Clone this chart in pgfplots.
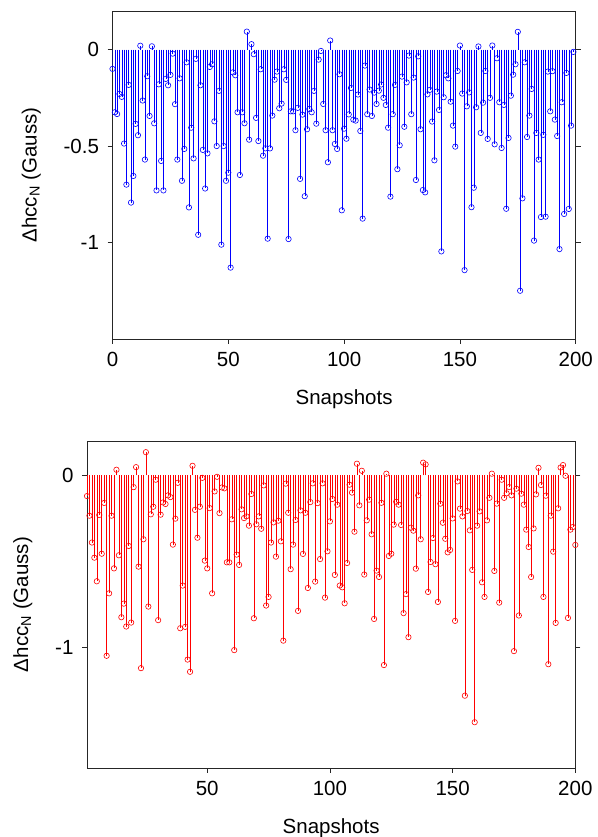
\documentclass[border=0pt]{standalone}
\usepackage{fontspec}
\setmainfont{Liberation Sans}
\usepackage{pgfplots}
\usepackage{pgfplotstable}
\pgfplotsset{compat=1.18}

% top series: snapshots 0..199
\pgfplotstableread{
x y
0 -0.100
1 -0.325
2 -0.334
3 -0.230
4 -0.245
5 -0.487
6 -0.700
7 -0.183
8 -0.793
9 -0.655
10 -0.385
11 -0.444
12 0.020
13 -0.264
14 -0.570
15 -0.138
16 -0.344
17 0.017
18 -0.382
19 -0.730
20 -0.180
21 -0.577
22 -0.730
23 -0.152
24 -0.185
25 -0.131
26 -0.021
27 -0.283
28 -0.570
29 -0.149
30 -0.680
31 -0.515
32 -0.066
33 -0.818
34 -0.405
35 -0.564
36 -0.048
37 -0.960
38 -0.185
39 -0.520
40 -0.720
41 -0.538
42 -0.090
43 -0.076
44 -0.372
45 -0.500
46 -0.214
47 -1.011
48 -0.500
49 -0.680
50 -0.638
51 -1.130
52 -0.118
53 -0.133
54 -0.325
55 -0.650
56 -0.325
57 -0.382
58 0.093
59 -0.467
60 0.028
61 -0.024
62 -0.354
63 -0.474
64 -0.102
65 -0.550
66 -0.512
67 -0.980
68 -0.512
69 -0.342
70 -0.156
71 -0.114
72 -0.304
73 -0.280
74 -0.102
75 -0.157
76 -0.982
77 -0.320
78 -0.320
79 -0.418
80 -0.302
81 -0.670
82 -0.337
83 -0.760
84 -0.413
85 -0.308
86 -0.325
87 -0.214
88 -0.384
89 -0.052
90 -0.007
91 -0.282
92 -0.418
93 -0.584
94 0.047
95 -0.418
96 -0.489
97 -0.515
98 -0.128
99 -0.833
100 -0.410
101 -0.462
102 -0.336
103 -0.199
104 -0.363
105 -0.368
106 -0.233
107 -0.422
108 -0.876
109 -0.083
110 -0.335
111 -0.207
112 -0.344
113 -0.223
114 -0.282
115 -0.213
116 -0.181
117 -0.250
118 -0.287
119 -0.405
120 -0.762
121 -0.335
122 -0.183
123 -0.620
124 -0.496
125 -0.140
126 -0.400
127 -0.170
128 -0.031
129 -0.335
130 -0.145
131 -0.676
132 -0.035
133 -0.413
134 -0.728
135 -0.740
136 -0.232
137 -0.209
138 -0.373
139 -0.574
140 -0.218
141 -0.313
142 -1.046
143 -0.247
144 -0.133
145 -0.149
146 -0.270
147 -0.394
148 -0.503
149 -0.111
150 0.021
151 -0.228
152 -1.143
153 -0.294
154 -0.222
155 -0.817
156 -0.716
157 -0.299
158 0.016
159 -0.432
160 -0.275
161 -0.111
162 -0.463
163 -0.250
164 0.021
165 -0.491
166 -0.045
167 -0.273
168 -0.510
169 -0.287
170 -0.825
171 -0.458
172 -0.239
173 -0.130
174 -0.076
175 0.092
176 -1.250
177 -0.771
178 -0.066
179 -0.453
180 -0.342
181 -0.204
182 -0.990
183 -0.432
184 -0.570
185 -0.868
186 -0.442
187 -0.866
188 -0.114
189 -0.320
190 -0.112
191 -0.363
192 -0.448
193 -1.034
194 -0.273
195 -0.852
196 -0.121
197 -0.826
198 -0.394
199 -0.012
}\topdata

% bottom series: snapshots 1..200
\pgfplotstableread{
x y
1 -0.120
2 -0.234
3 -0.390
4 -0.478
5 -0.615
6 -0.230
7 -0.455
8 -0.160
9 -1.048
10 -0.685
11 -0.234
12 -0.540
13 0.033
14 -0.464
15 -0.824
16 -0.745
17 -0.878
18 -0.410
19 -0.855
20 -0.068
21 0.048
22 -0.530
23 -1.120
24 -0.371
25 0.135
26 -0.762
27 -0.226
28 -0.182
29 -0.025
30 -0.841
31 -0.228
32 -0.157
33 -0.166
34 -0.116
35 -0.126
36 -0.402
37 -0.251
38 -0.043
39 -0.888
40 -0.640
41 -0.880
42 -1.070
43 -1.141
44 0.056
45 -0.200
46 -0.362
47 -0.182
48 -0.014
49 -0.495
50 -0.540
51 -0.190
52 -0.685
53 -0.093
54 -0.008
55 -0.219
56 -0.070
57 -0.075
58 -0.505
59 -0.505
60 -0.255
61 -1.015
62 -0.460
63 -0.520
64 -0.197
65 -0.248
66 -0.238
67 -0.292
68 -0.108
69 -0.830
70 -0.284
71 -0.238
72 -0.310
73 -0.058
74 -0.756
75 -0.706
76 -0.390
77 -0.273
78 -0.472
79 -0.263
80 -0.383
81 -0.960
82 -0.048
83 -0.217
84 -0.545
85 -0.402
86 -0.259
87 -0.787
88 -0.203
89 -0.456
90 -0.217
91 -0.654
92 -0.155
93 -0.046
94 -0.617
95 -0.161
96 -0.486
97 -0.046
98 -0.710
99 -0.441
100 -0.267
101 -0.137
102 -0.578
103 -0.170
104 -0.640
105 -0.650
106 -0.743
107 -0.509
108 -0.054
109 -0.100
110 -0.327
111 0.068
112 -0.174
113 0.027
114 -0.576
115 -0.261
116 -0.141
117 -0.342
118 -0.834
119 -0.553
120 -0.590
121 -0.159
122 -1.102
123 0.010
124 -0.468
125 -0.455
126 -0.286
127 -0.153
128 -0.170
129 -0.288
130 -0.800
131 -0.690
132 -0.940
133 -0.304
134 -0.321
135 -0.542
136 -0.116
137 -0.371
138 0.074
139 0.064
140 -0.677
141 -0.503
142 -0.364
143 -0.516
144 -0.735
145 -0.164
146 -0.275
147 -0.368
148 -0.447
149 -0.433
150 -0.250
151 -0.845
152 -0.035
153 -0.193
154 -0.238
155 -1.280
156 -0.207
157 -0.319
158 -0.549
159 -1.434
160 -0.292
161 -0.209
162 -0.621
163 -0.706
164 -0.261
165 -0.130
166 0.010
167 -0.555
168 -0.164
169 -0.739
170 -0.025
171 -0.130
172 -0.104
173 -0.068
174 -0.116
175 -1.021
176 -0.077
177 -0.814
178 -0.106
179 -0.170
180 -0.315
181 -0.416
182 -0.590
183 -0.308
184 -0.110
185 0.044
186 -0.056
187 -0.706
188 -0.118
189 -1.097
190 -0.234
191 -0.443
192 -0.857
193 -0.191
194 0.046
195 0.060
196 -0.002
197 -0.828
198 -0.315
199 -0.300
200 -0.404
}\botdata

\pgfplotsset{
  stemaxis/.style={
    scale only axis,
    anchor=south west,
    tick align=outside,
    xtick pos=left,
    ytick pos=both,
    major tick length=5pt,
    axis line style={black!85, line width=0.7pt},
    every tick/.style={black!85, line width=0.7pt},
    tick label style={font=\fontsize{20.5}{24}\selectfont},
    xticklabel style={yshift=-5pt},
    yticklabel style={xshift=-5pt},
    label style={font=\fontsize{20.5}{24}\selectfont},
    xlabel={Snapshots},
    ylabel={Δhcc\textsubscript{N} (Gauss)},
    xlabel style={at={(ticklabel cs:0.5,16pt)}},
    ylabel style={at={(ticklabel cs:0.5,16pt)}},
  },
  stem/.style={
    ycomb, line width=0.45pt, mark=o, mark size=2.7pt,
    mark options={solid, line width=0.6pt},
  },
}

\begin{document}
\begin{tikzpicture}
\useasboundingbox (0,0) rectangle (597pt,837pt);

\begin{axis}[stemaxis,
  at={(112.5pt,498pt)}, width=463.2pt, height=328pt,
  xmin=0, xmax=200, ymin=-1.5, ymax=0.2,
  xtick={0,50,100,150,200}, xticklabels={0,50,100,150,200},
  ytick={-1,-0.5,0}, yticklabels={-1,-0.5,0}]
  \addplot[stem, blue] table {\topdata};
\end{axis}

\begin{axis}[stemaxis,
  at={(87pt,69pt)}, width=488.3pt, height=327pt,
  xmin=1, xmax=200, ymin=-1.7, ymax=0.2,
  xtick={50,100,150,200}, xticklabels={50,100,150,200},
  ytick={-1,0}, yticklabels={-1,0}]
  \addplot[stem, red] table {\botdata};
\end{axis}
\end{tikzpicture}
\end{document}
